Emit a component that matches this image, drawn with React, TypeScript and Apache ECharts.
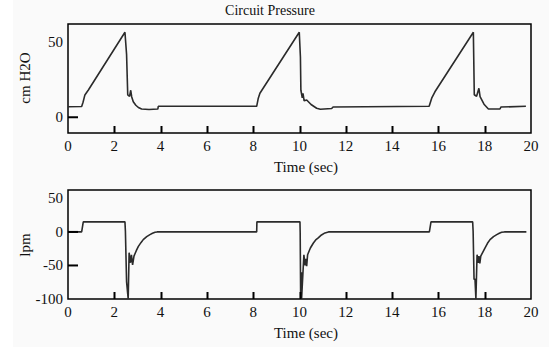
import React, { useEffect, useRef } from "react";
import * as echarts from "echarts";

// Circuit pressure (cm H2O) vs time (s)
const pressureTime = [
  0, 0.59, 0.65, 0.73, 0.88, 2.46, 2.53, 2.58, 2.66, 2.71, 2.75, 2.82, 2.93, 3.04, 3.18, 3.5, 3.88, 3.9, 8.15,
  8.22, 8.29, 9.99, 10.04, 10.06, 10.12, 10.15, 10.2, 10.31, 10.5, 10.74, 10.9, 11.39, 11.45, 15.6,
  15.71, 15.85, 17.51, 17.55, 17.65, 17.75, 17.8, 17.97, 18.16, 18.66, 18.7, 19.78,
];
const pressureValue = [
  7, 7.2, 10, 14.9, 18.2, 56.7, 42, 15, 14, 18, 13.7, 10.4, 8, 6.5, 5.5, 5.2, 5.5, 7.3, 7.3,
  12.7, 16, 56.7, 40, 18, 13, 16, 11, 11.5, 8.5, 6, 5.3, 5.8, 6.8, 7.3,
  12.7, 17, 56.7, 15, 14, 19.3, 13.7, 8.7, 5.5, 5.5, 6.8, 7.3,
];

// Flow (lpm) vs time (s)
const flowTime = [
  0, 0.59, 0.66, 2.46, 2.48, 2.53, 2.6, 2.64, 2.7, 2.74, 2.79, 2.85, 2.95, 3.04, 3.15, 3.25, 3.4, 3.54, 3.65, 3.76, 3.85, 8.15,
  8.16, 10.02, 10.03, 10.05, 10.08, 10.09, 10.19, 10.24, 10.27, 10.31, 10.35, 10.47, 10.6, 10.7, 10.81, 10.95, 11.1, 11.25, 15.61,
  15.68, 17.48, 17.5, 17.54, 17.58, 17.62, 17.67, 17.72, 17.75, 17.79, 17.83, 17.92, 18.01, 18.12, 18.23, 18.38, 18.52, 18.63, 18.73, 18.85, 19.8,
];
const flowValue = [
  0, 0, 15, 15, 1, -74, -100, -31, -46, -34, -49, -36, -28, -21.5, -16, -11.5, -7, -4, -2, -0.5, 0, 0,
  15, 15, -1.5, -100, -60, -100, -34, -50, -40, -51, -34, -24, -16.5, -12, -9, -4.5, -1.5, 0, 0,
  15, 15, 1, -71, -70, -100, -34, -46, -36, -47, -36, -30, -24, -17, -11.5, -7, -4, -2, -0.5, 0, 0,
];

const xTickMarks = [2, 4, 6, 8, 10, 12, 14, 16, 18];
const pressureTickMarks = [0];
const flowTickMarks = [-50, 0];
const pressureTickLabels = [0, 50];
const flowTickLabels = [-100, -50, 0, 50];

const titleText = "Circuit Pressure";
const xName = "Time (sec)";
const pressureName = "cm H2O";
const flowName = "lpm";

const FONT = "'Liberation Serif', 'DejaVu Serif', serif";
const TXT = "#111";

const P_MIN = -10.5;
const P_MAX = 62.2;
const F_MIN = -100;
const F_MAX = 62.5;
const X_MAX = 20;

const GRID_LEFT = 68;
const GRID_W = 463;
const GRID_H = 109;
const TOP1 = 24;
const TOP2 = 190;

export default function App() {
  const ref = useRef<HTMLDivElement>(null);
  useEffect(() => {
    if (!ref.current) return;
    const chart = echarts.init(ref.current, null, { renderer: "svg" });
    const pData = pressureTime.map((t, i) => [t, pressureValue[i]]);
    const fData = flowTime.map((t, i) => [t, flowValue[i]]);

    const xAxisBase = (gridIndex: number) => ({
      type: "value" as const,
      gridIndex,
      min: 0,
      max: X_MAX,
      interval: 2,
      axisLine: { show: false, onZero: false },
      splitLine: { show: false },
      axisTick: { show: false },
      axisLabel: { show: true, margin: 5, fontFamily: FONT, fontSize: 15, color: TXT },
    });

    // axis tick marks (decoration) on the frame
    const tickEls: any[] = [];
    const addTicks = (top: number, yMin: number, yMax: number, yVals: number[]) => {
      const bottom = top + GRID_H;
      xTickMarks.forEach((t) => {
        const px = Math.round(GRID_LEFT + (t / X_MAX) * GRID_W) + 0.5;
        tickEls.push({
          type: "rect",
          z: 100,
          silent: true,
          shape: { x: px - 1, y: bottom - 7, width: 2, height: 7 },
          style: { fill: "#000" },
        });
      });
      yVals.forEach((v) => {
        const py = top + ((yMax - v) / (yMax - yMin)) * GRID_H;
        tickEls.push({
          type: "rect",
          z: 100,
          silent: true,
          shape: { x: GRID_LEFT, y: py - 1, width: 10, height: 2 },
          style: { fill: "#000" },
        });
      });
    };
    addTicks(TOP1, P_MIN, P_MAX, pressureTickMarks);
    addTicks(TOP2, F_MIN, F_MAX, flowTickMarks);

    chart.setOption({
      animation: false,
      backgroundColor: "#ffffff",
      textStyle: { fontFamily: FONT },
      graphic: [
        { type: "rect", z: -10, shape: { x: 13, y: 0, width: 536, height: 347 }, style: { fill: "#fafafa" }, silent: true },
        { type: "text", x: 270, y: 10, style: { text: titleText, font: `14px ${FONT}`, fill: TXT, align: "center", verticalAlign: "middle" } },
        { type: "text", x: 306, y: 167, style: { text: xName, font: `15px ${FONT}`, fill: TXT, align: "center", verticalAlign: "middle" } },
        { type: "text", x: 306, y: 333, style: { text: xName, font: `15px ${FONT}`, fill: TXT, align: "center", verticalAlign: "middle" } },
        { type: "text", x: 25, y: 78, rotation: Math.PI / 2, style: { text: pressureName, font: `15px ${FONT}`, fill: TXT, align: "center", verticalAlign: "middle" } },
        { type: "text", x: 25, y: 245, rotation: Math.PI / 2, style: { text: flowName, font: `15px ${FONT}`, fill: TXT, align: "center", verticalAlign: "middle" } },
        ...tickEls,
      ],
      grid: [
        { left: GRID_LEFT, top: TOP1, width: GRID_W, height: GRID_H, show: true, borderColor: "#000", borderWidth: 1.5, backgroundColor: "transparent" },
        { left: GRID_LEFT, top: TOP2, width: GRID_W, height: GRID_H, show: true, borderColor: "#000", borderWidth: 1.5, backgroundColor: "transparent" },
      ],
      xAxis: [xAxisBase(0), xAxisBase(1)],
      yAxis: [
        {
          type: "value",
          gridIndex: 0,
          min: P_MIN,
          max: P_MAX,
          axisLine: { show: false, onZero: false },
          splitLine: { show: false },
          axisTick: { show: false },
          axisLabel: { show: true, margin: 5, fontFamily: FONT, fontSize: 15, color: TXT, customValues: pressureTickLabels },
        },
        {
          type: "value",
          gridIndex: 1,
          min: F_MIN,
          max: F_MAX,
          axisLine: { show: false, onZero: false },
          splitLine: { show: false },
          axisTick: { show: false },
          axisLabel: { show: true, margin: 5, fontFamily: FONT, fontSize: 15, color: TXT, customValues: flowTickLabels },
        },
      ],
      series: [
        {
          type: "line",
          xAxisIndex: 0,
          yAxisIndex: 0,
          data: pData,
          showSymbol: false,
          lineStyle: { color: "#2b2b2b", width: 1.6 },
          clip: true,
        },
        {
          type: "line",
          xAxisIndex: 1,
          yAxisIndex: 1,
          data: fData,
          showSymbol: false,
          lineStyle: { color: "#2b2b2b", width: 1.6 },
          clip: true,
        },
      ],
    });

    return () => chart.dispose();
  }, []);
  return <div ref={ref} style={{ position: "fixed", left: 0, top: 0, width: 549, height: 347 }} />;
}
